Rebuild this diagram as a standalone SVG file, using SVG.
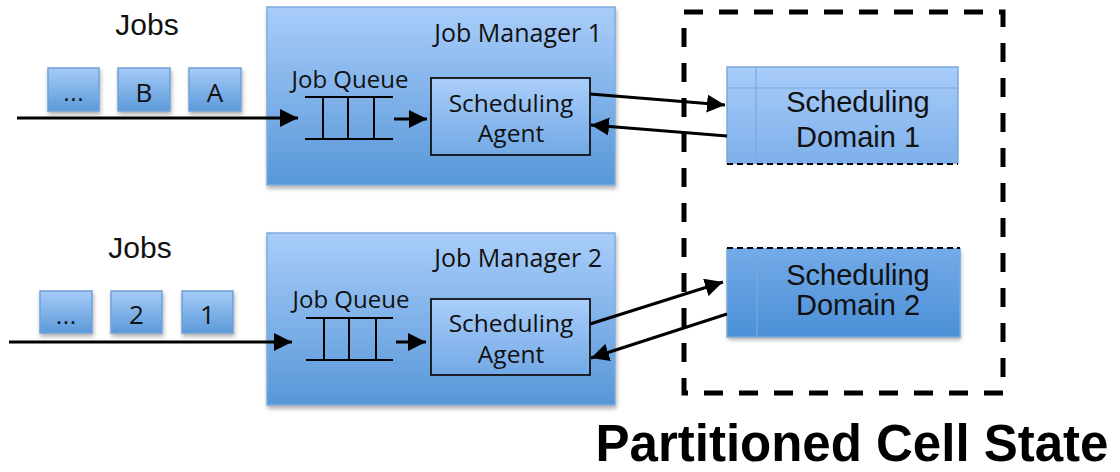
<svg xmlns="http://www.w3.org/2000/svg" width="1120" height="472" viewBox="0 0 1120 472">
<defs>
<linearGradient id="gJM" x1="0" y1="0" x2="0" y2="1"><stop offset="0" stop-color="#a9cdfa"/><stop offset="1" stop-color="#5797d8"/></linearGradient>
<linearGradient id="gJob" x1="0" y1="0" x2="0" y2="1"><stop offset="0" stop-color="#a6cbf8"/><stop offset="1" stop-color="#5b9ad9"/></linearGradient>
<linearGradient id="gAg" x1="0" y1="0" x2="0" y2="1"><stop offset="0" stop-color="#aacefa"/><stop offset="1" stop-color="#72a9e6"/></linearGradient>
<linearGradient id="gD1" x1="0" y1="0" x2="0" y2="1"><stop offset="0" stop-color="#a9cdfa"/><stop offset="1" stop-color="#7dafea"/></linearGradient>
<linearGradient id="gD2" x1="0" y1="0" x2="0" y2="1"><stop offset="0" stop-color="#74aae8"/><stop offset="1" stop-color="#4b90d6"/></linearGradient>
<filter id="sh" x="-10%" y="-10%" width="125%" height="130%"><feDropShadow dx="1" dy="3" stdDeviation="2" flood-color="#000" flood-opacity="0.3"/></filter>
<marker id="ah" viewBox="0 0 10 10" refX="10" refY="5" markerWidth="6" markerHeight="6" orient="auto" markerUnits="strokeWidth"><path d="M0,0 L10,5 L0,10 z" fill="#000"/></marker>
<style>
.jm{fill:url(#gJM);stroke:#7eaadc;stroke-width:1.5;filter:url(#sh)}
.job{fill:url(#gJob);stroke:#6fa0d8;stroke-width:1.5;filter:url(#sh)}
.ag{fill:url(#gAg);stroke:#111;stroke-width:1.8}
.q{stroke:#000;stroke-width:2;fill:none}
.t{font-family:"Open Sans",sans-serif;fill:#111}
.a{font-family:"Liberation Sans",Arial,sans-serif;fill:#111}
.c{stroke:#000;stroke-width:3;fill:none;marker-end:url(#ah)}
.dom{stroke:#7aa8dc;stroke-width:1.5}
.dl{stroke:#7aa8dc;stroke-width:1.2}
</style>
</defs>

<g id="jobs1">
<text class="a" x="147" y="35" font-size="30" text-anchor="middle">Jobs</text>
<rect class="job" x="48" y="68" width="51" height="43"/>
<text class="a" x="73.5" y="101" font-size="25" text-anchor="middle">...</text>
<rect class="job" x="118" y="68" width="52" height="43"/>
<text class="t" x="144" y="102" font-size="26" text-anchor="middle">B</text>
<rect class="job" x="189" y="68" width="52" height="43"/>
<text class="t" x="215" y="102" font-size="26" text-anchor="middle">A</text>
</g>

<g id="jobs2">
<text class="a" x="140" y="258" font-size="30" text-anchor="middle">Jobs</text>
<rect class="job" x="40" y="291" width="52" height="42"/>
<text class="a" x="66" y="324" font-size="25" text-anchor="middle">...</text>
<rect class="job" x="111" y="291" width="51" height="42"/>
<text class="t" x="136.5" y="324" font-size="26" text-anchor="middle">2</text>
<rect class="job" x="182" y="291" width="51" height="42"/>
<text class="t" x="207.5" y="324" font-size="26" text-anchor="middle">1</text>
</g>

<g id="jm1">
<rect class="jm" x="267" y="7" width="348" height="178"/>
<text class="t" x="602" y="42" font-size="25" text-anchor="end">Job Manager 1</text>
<text class="t" x="350" y="88" font-size="24" text-anchor="middle">Job Queue</text>
<g id="queue1" class="q">
<line x1="305" y1="97" x2="393" y2="97"/><line x1="305" y1="139" x2="393" y2="139"/>
<line x1="323" y1="97" x2="323" y2="139"/><line x1="348" y1="97" x2="348" y2="139"/><line x1="374" y1="97" x2="374" y2="139"/>
</g>
</g>
<g id="agent1">
<rect class="ag" x="431" y="78" width="159" height="77"/>
<text class="t" x="511" y="112" font-size="24.5" text-anchor="middle">Scheduling</text>
<text class="t" x="511" y="142" font-size="24.5" text-anchor="middle">Agent</text>
</g>

<g id="jm2">
<rect class="jm" x="267" y="233" width="348" height="172"/>
<text class="t" x="602" y="267" font-size="25" text-anchor="end">Job Manager 2</text>
<text class="t" x="351" y="308" font-size="24" text-anchor="middle">Job Queue</text>
<g id="queue2" class="q">
<line x1="306" y1="318" x2="393" y2="318"/><line x1="306" y1="360" x2="393" y2="360"/>
<line x1="324" y1="318" x2="324" y2="360"/><line x1="349" y1="318" x2="349" y2="360"/><line x1="376" y1="318" x2="376" y2="360"/>
</g>
</g>
<g id="agent2">
<rect class="ag" x="431" y="299" width="159" height="76"/>
<text class="t" x="511" y="332" font-size="24.5" text-anchor="middle">Scheduling</text>
<text class="t" x="511" y="363" font-size="24.5" text-anchor="middle">Agent</text>
</g>

<g id="cellstate">
<rect x="684" y="12" width="319" height="381" fill="none" stroke="#000" stroke-width="5" stroke-dasharray="19 16"/>
<text x="852" y="461" font-family="'Liberation Sans',Arial,sans-serif" font-weight="bold" font-size="51" text-anchor="middle" fill="#000">Partitioned Cell State</text>
</g>

<g id="domain1">
<rect x="727" y="67" width="231" height="97" fill="url(#gD1)"/>
<path class="dom" d="M727,164 V67 H958 V164" fill="none"/>
<line class="dl" x1="727" y1="88" x2="958" y2="88"/>
<line class="dl" x1="756" y1="67" x2="756" y2="164"/>
<line x1="727" y1="164" x2="958" y2="164" stroke="#000" stroke-width="2" stroke-dasharray="6 4"/>
<text class="a" x="858" y="112" font-size="29" text-anchor="middle">Scheduling</text>
<text class="a" x="858" y="147" font-size="29" text-anchor="middle">Domain 1</text>
</g>

<g id="domain2">
<rect x="727" y="248" width="233" height="89" fill="url(#gD2)" filter="url(#sh)"/>
<path class="dom" d="M727,248 V337 H960 V248" fill="none"/>
<line class="dl" x1="757" y1="248" x2="757" y2="337"/>
<line x1="727" y1="248" x2="960" y2="248" stroke="#000" stroke-width="2" stroke-dasharray="6 4"/>
<text class="a" x="858" y="285" font-size="29" text-anchor="middle">Scheduling</text>
<text class="a" x="858" y="315" font-size="29" text-anchor="middle">Domain 2</text>
</g>

<g id="connectors">
<line class="c" x1="17" y1="118" x2="298" y2="118"/>
<line class="c" x1="394" y1="119" x2="427" y2="119"/>
<line class="c" x1="590" y1="94" x2="725" y2="105"/>
<line class="c" x1="727" y1="136" x2="591" y2="125"/>
<line class="c" x1="9" y1="342" x2="292" y2="342"/>
<line class="c" x1="396" y1="342" x2="426" y2="342"/>
<line class="c" x1="590" y1="324" x2="723" y2="282"/>
<line class="c" x1="727" y1="314" x2="591" y2="358"/>
</g>
</svg>
